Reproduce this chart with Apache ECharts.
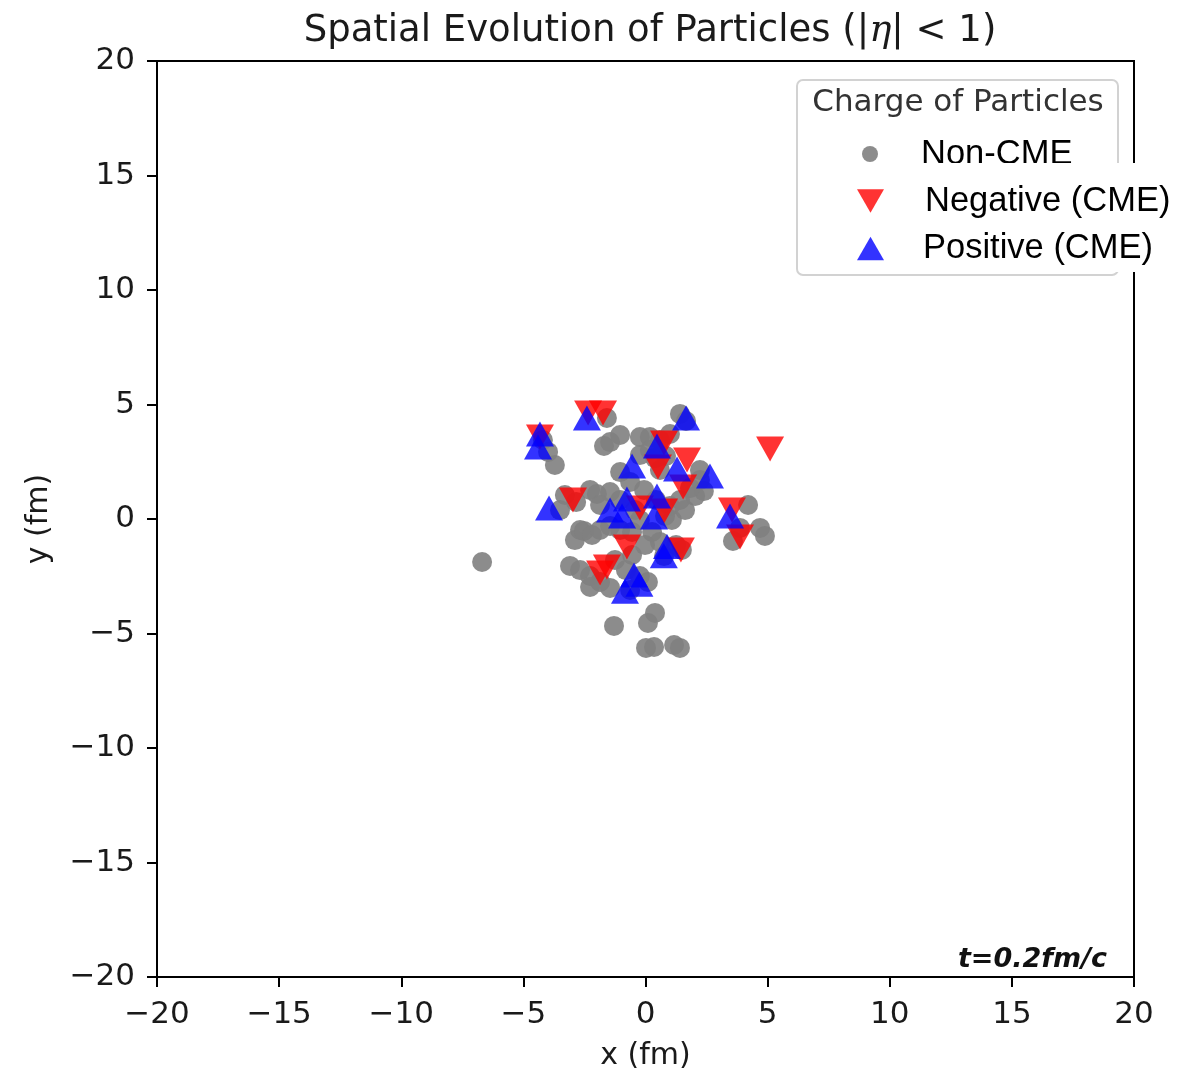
<!DOCTYPE html>
<html>
<head>
<meta charset="utf-8">
<script src="https://cdn.jsdelivr.net/npm/echarts@6/dist/echarts.min.js"></script>
<style>
  html, body { margin: 0; padding: 0; background: #fff; }
  #chart { width: 1201px; height: 1076px; }
</style>
</head>
<body>
<div id="chart"></div>
<script>
// Particle positions in the transverse plane (fm), |eta| < 1, at t = 0.2 fm/c
const nonCME = [
  [-6.69,-1.88],[-1.29,-4.67],[0.39,-4.10],[0.10,-4.54],[0.02,-5.63],[0.35,-5.59],
  [1.17,-5.50],[1.41,-5.63],[3.58,-0.96],[3.87,-0.39],[4.69,-0.39],[4.89,-0.74],
  [4.20,0.61],[-3.71,2.36],[-3.99,2.93],[-4.20,3.45],[-1.45,3.36],[-1.70,3.19],
  [-1.04,3.67],[-1.58,4.41],[-0.23,3.58],[0.18,3.58],[0.59,3.45],[1.00,3.71],
  [1.41,4.59],[1.66,4.28],[2.23,1.70],[2.39,1.22],[2.03,1.00],[1.82,1.35],
  [1.41,0.83],[1.00,0.57],[0.80,0.13],[-3.30,1.05],[-3.50,0.39],[-2.84,0.74],
  [-2.27,1.27],[-1.99,1.09],[-2.68,-0.48],[-2.89,-0.92],[-2.52,-0.52],[-2.19,-0.70],
  [-1.86,-0.48],[-1.45,-0.31],[-1.04,-0.48],[-0.55,-0.57],[-3.09,-2.05],[-2.68,-2.23],
  [-2.27,-2.49],[-1.86,-2.75],[-1.45,-3.01],[-2.27,-2.97],[-0.63,-3.10],[-0.23,-2.49],
  [0.10,-2.75],[1.25,-1.14],[1.49,-1.35],[0.76,-1.62],[-0.23,-0.04],[0.27,-0.57],
  [0.59,-1.00],[1.08,-0.04],[0.43,0.83],[-0.06,1.27],[0.59,2.14],[0.39,2.66],
  [2.23,2.14],[-1.04,2.05],[-0.63,1.62],[-1.45,1.18],[-0.23,2.79],[0.84,2.75],
  [0.18,3.01],[-1.86,0.61],[-1.04,0.83],[-0.43,0.39],[-0.55,-1.57],[-0.02,-1.14],
  [-1.25,-1.79],[-0.80,-2.23],[1.62,0.39]
];
const negativeCME = [
  [-4.32,3.58],[-2.35,4.63],[-1.74,4.63],[5.10,3.06],[-2.97,0.83],[-0.76,-1.22],
  [-1.86,-2.36],[-1.58,-2.10],[0.76,3.32],[1.70,2.58],[0.51,2.27],[1.54,1.40],
  [-0.23,0.48],[0.76,0.35],[3.54,0.39],[3.87,-0.79],[1.45,-1.35]
];
const positiveCME = [
  [-4.32,3.71],[-4.40,3.14],[-2.40,4.41],[1.66,4.41],[-3.95,0.48],[0.47,3.19],
  [-0.55,2.31],[1.29,2.18],[2.64,1.88],[-0.76,0.87],[0.47,1.00],[-1.45,0.39],
  [-0.96,0.13],[0.35,0.09],[3.46,0.13],[0.88,-1.20],[0.75,-1.60],[-0.47,-2.45],
  [-0.84,-3.15],[-0.25,-2.85]
];
const seriesNames = ['Non-CME', 'Negative (CME)', 'Positive (CME)'];
const axisTicks = { min: -20, max: 20, step: 5 };

const DOWN_TRI = 'path://M0,0 L2,0 L1,1.732 Z';
const UP_TRI = 'path://M1,0 L2,1.732 L0,1.732 Z';
const tickFont = { fontFamily: 'DejaVu Sans', fontSize: 31, color: '#1a1a1a' };
const minusSign = v => String(v).replace('-', '\u2212');

function valueAxis(name, extra) {
  return Object.assign({
    type: 'value',
    min: axisTicks.min, max: axisTicks.max, interval: axisTicks.step,
    name: name,
    nameLocation: 'middle',
    nameTextStyle: { fontFamily: 'DejaVu Sans', fontSize: 30, color: '#1a1a1a' },
    axisLine: { show: true, onZero: false, lineStyle: { color: '#000', width: 2 } },
    axisTick: { show: true, inside: false, length: 10, lineStyle: { color: '#000', width: 2 } },
    axisLabel: Object.assign({ formatter: minusSign, margin: 22 }, tickFont),
    splitLine: { show: false }
  }, extra);
}

const legendText = (pad, bg) => ({
  fontFamily: 'Liberation Sans', fontSize: 34.5, color: '#000', lineHeight: 38,
  padding: pad, backgroundColor: bg || 'transparent'
});

const chart = echarts.init(document.getElementById('chart'), null, { renderer: 'canvas' });
chart.setOption({
  animation: false,
  backgroundColor: '#fff',
  title: {
    text: 'Spatial Evolution of Particles (|{i|η}| < 1)',
    left: 645, top: 8, textAlign: 'center',
    textStyle: {
      fontFamily: 'DejaVu Sans', fontSize: 37, fontWeight: 'normal', color: '#1a1a1a',
      rich: { i: { fontFamily: 'DejaVu Serif', fontStyle: 'italic', fontSize: 37, color: '#1a1a1a' } }
    }
  },
  grid: {
    left: 157, top: 61, width: 977, height: 916,
    outerBoundsMode: 'none', containLabel: false,
    show: true, borderColor: '#000', borderWidth: 2, backgroundColor: '#fff'
  },
  xAxis: valueAxis('x (fm)', { nameGap: 64 }),
  yAxis: valueAxis('y (fm)', { nameGap: 103 }),
  legend: [
    {
      data: [{ name: seriesNames[0], icon: 'circle' }],
      left: 862, top: 135, padding: 0, itemWidth: 16, itemHeight: 16,
      textStyle: legendText([0, 0, 0, 38]), selectedMode: false
    },
    {
      data: [{ name: seriesNames[1], icon: DOWN_TRI }],
      left: 857, top: 163, padding: 0, itemWidth: 27, itemHeight: 26,
      textStyle: legendText([14, 8, 24, 36], '#fff'), selectedMode: false
    },
    {
      data: [{ name: seriesNames[2], icon: UP_TRI }],
      left: 857, top: 225, padding: 0, itemWidth: 27, itemHeight: 26,
      textStyle: legendText([0, 18, 9, 34], '#fff'), selectedMode: false
    }
  ],
  graphic: [
    {
      type: 'rect', z: 3,
      shape: { x: 797, y: 80, width: 321, height: 195, r: 6 },
      style: { fill: 'rgba(255,255,255,0.85)', stroke: '#d2d2d2', lineWidth: 2 }
    },
    {
      type: 'text', z: 3, x: 958, y: 103,
      style: {
        text: 'Charge of Particles', fontFamily: 'DejaVu Sans', fontSize: 31,
        fill: '#333', align: 'center', verticalAlign: 'middle'
      }
    },
    {
      type: 'text', z: 3, x: 1107, y: 960,
      style: {
        text: 't=0.2fm/c', fontFamily: 'DejaVu Sans', fontSize: 27,
        fontStyle: 'italic', fontWeight: 'bold',
        fill: '#111', align: 'right', verticalAlign: 'middle'
      }
    }
  ],
  series: [
    {
      name: seriesNames[0], type: 'scatter', data: nonCME,
      symbol: 'circle', symbolSize: 20,
      itemStyle: { color: '#808080', opacity: 0.9 }
    },
    {
      name: seriesNames[1], type: 'scatter', data: negativeCME,
      symbol: DOWN_TRI, symbolSize: [28, 25],
      itemStyle: { color: '#ff0000', opacity: 0.8 }
    },
    {
      name: seriesNames[2], type: 'scatter', data: positiveCME,
      symbol: UP_TRI, symbolSize: [28, 25],
      itemStyle: { color: '#0000ff', opacity: 0.8 }
    }
  ]
});
</script>
</body>
</html>
